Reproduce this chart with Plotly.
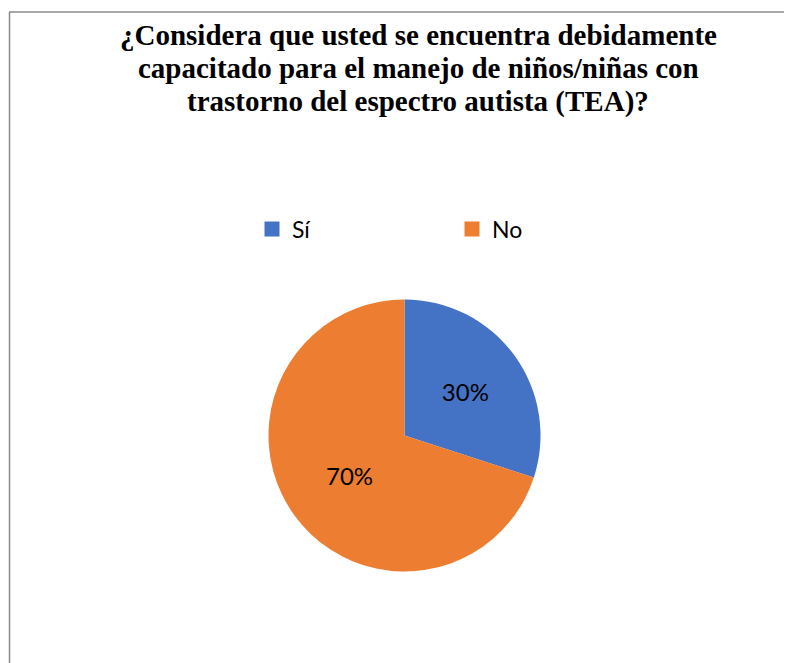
import plotly.graph_objects as go

categories = ["Sí", "No"]
values = [30, 70]
colors = ["#4472C4", "#ED7D31"]
title_lines = [
    "¿Considera que usted se encuentra debidamente",
    "capacitado para el manejo de niños/niñas con",
    "trastorno del espectro autista (TEA)?",
]

# page is offset by the body margin (8px), so the figure is 8px smaller
W, H = 784, 655
cx, cy, r = 396.5, 427.5, 136
sans = "Lato, 'Open Sans', sans-serif"
serif = "'Liberation Serif', 'Times New Roman', serif"

fig = go.Figure()
fig.add_trace(go.Pie(
    labels=categories,
    values=values,
    sort=False,
    direction="clockwise",
    rotation=0,
    marker=dict(colors=colors, line=dict(width=0)),
    texttemplate="%{percent:.0%}",
    textposition="inside",
    insidetextorientation="horizontal",
    textfont=dict(family=sans, size=24, color="#000000"),
    domain=dict(x=[(cx - r) / W, (cx + r) / W], y=[(H - cy - r) / H, (H - cy + r) / H]),
    hoverinfo="label+percent",
    showlegend=False,
))
# legend entries (square swatches)
for cat, col in zip(categories, colors):
    fig.add_trace(go.Scatter(
        x=[None], y=[None], mode="markers", name=cat,
        marker=dict(symbol="square", size=15, color=col),
        showlegend=True, hoverinfo="skip",
    ))

title_mid_y = [27, 60, 93]
annotations = [
    dict(text="<b>%s</b>" % line, x=410 / W, y=1 - yy / H, xref="paper", yref="paper",
         xanchor="center", yanchor="middle", showarrow=False,
         font=dict(family=serif, size=29, color="#000000"))
    for line, yy in zip(title_lines, title_mid_y)
]

fig.update_layout(
    width=W, height=H,
    margin=dict(l=0, r=0, t=0, b=0),
    paper_bgcolor="white",
    plot_bgcolor="white",
    xaxis=dict(visible=False),
    yaxis=dict(visible=False),
    annotations=annotations,
    legend=dict(
        orientation="h",
        x=244 / W, xanchor="left",
        y=(H - 221) / H, yanchor="middle",
        font=dict(family=sans, size=23, color="#000000"),
        entrywidth=155, entrywidthmode="pixels",
        traceorder="normal",
    ),
    shapes=[
        dict(type="line", xref="paper", yref="paper", x0=1 / W, x1=1, y0=1 - 4 / H, y1=1 - 4 / H,
             line=dict(color="#8a8a8a", width=1.5)),
        dict(type="line", xref="paper", yref="paper", x0=1.5 / W, x1=1.5 / W, y0=0, y1=1 - 4 / H,
             line=dict(color="#8a8a8a", width=1.5)),
    ],
)

fig.write_html("out.html")
